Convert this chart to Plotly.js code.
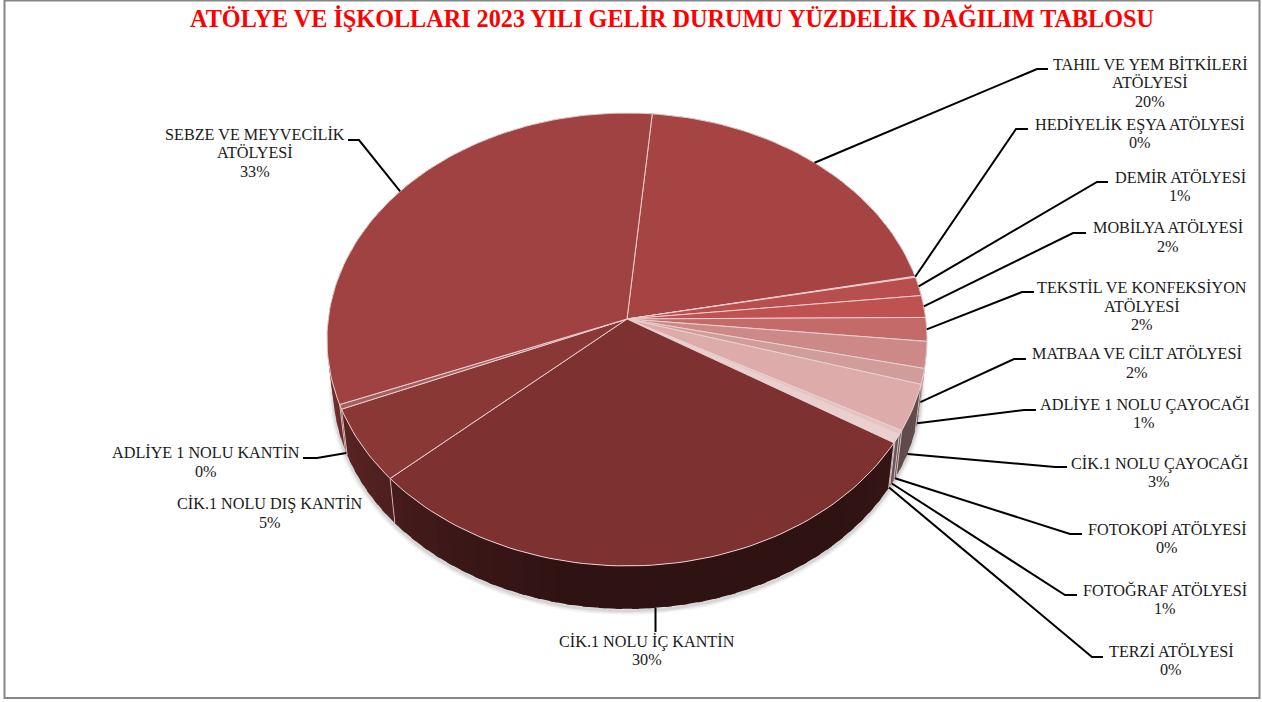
<!DOCTYPE html>
<html><head><meta charset="utf-8">
<script src="https://cdn.plot.ly/plotly-3.0.1.min.js"></script>
<style>html,body{margin:0;padding:0;background:#fff}#c{width:1262px;height:702px}</style>
</head><body><div id="c"></div>
<script>
// ---- data ----
const categories = ["TAHIL VE YEM BİTKİLERİ<br>ATÖLYESİ","HEDİYELİK EŞYA ATÖLYESİ","DEMİR ATÖLYESİ","MOBİLYA ATÖLYESİ","TEKSTİL VE KONFEKSİYON<br>ATÖLYESİ","MATBAA VE CİLT ATÖLYESİ","ADLİYE 1 NOLU ÇAYOCAĞI","CİK.1 NOLU ÇAYOCAĞI","FOTOKOPİ ATÖLYESİ","FOTOĞRAF ATÖLYESİ","TERZİ ATÖLYESİ","CİK.1 NOLU İÇ KANTİN","CİK.1 NOLU DIŞ KANTİN","ADLİYE 1 NOLU KANTİN","SEBZE VE MEYVECİLİK<br>ATÖLYESİ"];
const values = [20.44,0.08,1.35,1.57,1.69,1.89,1.11,3.31,0.3,0.5,0.12,29.6,5.3,0.33,32.5];
const chartTitle = "ATÖLYE VE İŞKOLLARI 2023 YILI GELİR DURUMU YÜZDELİK DAĞILIM TABLOSU";

// ---- styles ----
const topColors = ["#A54443","#B04A49","#B84E4D","#BF5150","#C46A69","#CD8987","#D19D9B","#DDABAA","#E6C3C2","#EBCFCE","#EFDADA","#7E3131","#8A3836","#A5605E","#9F4241"];
const edge = "#E8CFCF";
// ---- geometry of the tilted disc ----
const startAngle = 5.29, apexX = 627, apexY = 319, tiltK = 0.0905, scaleA = 298.8, scaleB = 224.6;
const wallShrink = 0.98, frontRimY = 566, frontBaseY = 609;
// ---- label layout: [centre x, centre y] ----
const labelPos = [[1150,83],[1139.5,134],[1180,187],[1168,237.5],[1142,306.5],[1137,363.5],[1144,414],[1159,472.5],[1167,539],[1165,600],[1171,661],[647,651],[270,513.5],[206,462.5],[255,153]];
const labelLineStep = 18.5;
// leader: label-side points, and whether it lands on the top rim or wall foot
const leaderOuter = [[1048,69],[1028,129],[1108,182],[1086,233],[1034,292],[1026,359],[1036,410],[1067,467],[1082,534],[1077,595],[1103,657],[655.5,632],null,[303,458],[348,140]];
const leaderElbow = [[1037,69],[1016,129],[1097,182],[1073,233],[1022,292],[1014,359],[1024,410],[1055,467],[1070,534],[1065,595],[1092,657],[655.5,632],null,[317,458],[359,140]];
const leaderOnWall = [0,0,0,0,0,1,1,1,1,1,1,1,0,1,0];

const rad = d => d * Math.PI / 180;
function rim(a){const s=Math.sin(rad(a)),c=Math.cos(rad(a)),w=1+tiltK*c;return [apexX+scaleA*s/w, apexY-scaleB*c/w];}
function foot(p){return [apexX+wallShrink*(p[0]-apexX), frontBaseY+wallShrink*(p[1]-frontRimY)];}
function hexRgb(h){return [1,3,5].map(i=>parseInt(h.substr(i,2),16));}
function wallFactor(a){const n=((a%360)+360)%360;
  if(n<115) return 0.44; if(n<190) return 0.44-0.07*Math.min(1,(n-115)/25);
  if(n<250) return 0.37+0.29*(n-190)/60; return 0.68;}
function shade(hex,f){const c=hexRgb(hex);return `rgb(${c.map(v=>Math.round(v*f)).join(",")})`;}

const total = values.reduce((a,b)=>a+b,0);
let acc = startAngle;
const spans = values.map(v=>{const s=acc;acc+=v/total*360;return [s,acc];});
const traces = [];
const poly=(pts,fill,line,w)=>traces.push({type:"scatter",mode:"lines",x:pts.map(p=>p[0]),y:pts.map(p=>p[1]),fill:"toself",fillcolor:fill,line:{color:line,width:w},hoverinfo:"skip",showlegend:false});
const path=(pts,col,w)=>traces.push({type:"scatter",mode:"lines",x:pts.map(p=>p[0]),y:pts.map(p=>p[1]),line:{color:col,width:w},hoverinfo:"skip",showlegend:false});

// soft shadow below the wall
const ring=[];for(let a=60;a<=300;a+=3){const f=foot(rim(a));ring.push([f[0],f[1]+2]);}
[[9,0.035],[6,0.05],[3,0.08]].forEach(([w,o])=>path(ring,`rgba(0,0,0,${o})`,w));

// walls: each band overlaps the next so that no seams show
spans.forEach(([s,e],i)=>{
  const n=Math.max(1,Math.ceil((e-s)/3)),step=(e-s)/n;
  for(let k=0;k<n;k++){
    const a=s+k*step,b=a+step,m=(a+b)/2,over=k<n-1?Math.min(step*0.5,1.2):0;
    const top=[rim(a),rim(m),rim(b+over)];
    const pts=top.concat(top.slice().reverse().map(foot));
    pts.push(pts[0]);
    poly(pts,shade(topColors[i],wallFactor(m)),"rgba(0,0,0,0)",0);
  }
});
// wall seams between slices
spans.forEach(([s,e])=>{const p=rim(s);if(Math.cos(rad(s))<0.2) path([p,foot(p)],"rgba(232,207,207,0.75)",1);});

// top faces
spans.forEach(([s,e],i)=>{
  const pts=[[apexX,apexY]];
  const n=Math.max(2,Math.ceil((e-s)/1.5));
  for(let k=0;k<=n;k++) pts.push(rim(s+(e-s)*k/n));
  pts.push([apexX,apexY]);
  poly(pts,topColors[i],edge,1);
});

// leader lines
spans.forEach(([s,e],i)=>{
  if(!leaderOuter[i]) return;
  const r=rim((s+e)/2),end=leaderOnWall[i]?foot(r):r;
  path([leaderOuter[i],leaderElbow[i],end],"#000",2);
});

// labels: one annotation per line so that the line spacing can match
const annotations=[];
categories.forEach((c,i)=>{
  const lines=c.split("<br>").concat(Math.round(values[i])+"%");
  lines.forEach((t,k)=>annotations.push({x:labelPos[i][0],y:labelPos[i][1]+(k-(lines.length-1)/2)*labelLineStep,xref:"x",yref:"y",text:t,showarrow:false,align:"center",xanchor:"center",yanchor:"middle",font:{family:"Liberation Serif, Times New Roman, serif",size:16.2,color:"#1a1a1a"}}));
});

const layout={width:1262,height:702,margin:{l:0,r:0,t:0,b:0},paper_bgcolor:"#fff",plot_bgcolor:"#fff",showlegend:false,
  title:{text:chartTitle,x:0.5325,xanchor:"center",y:0.9743,yanchor:"middle",font:{family:"Liberation Serif, Times New Roman, serif",size:24.2,color:"#FF0000",weight:700}},
  xaxis:{range:[0,1262],visible:false,fixedrange:true},
  yaxis:{range:[702,0],visible:false,fixedrange:true},
  shapes:[{type:"rect",xref:"x",yref:"y",x0:4.5,y0:0.5,x1:1259.5,y1:698,line:{color:"#868686",width:2},layer:"above"}],
  annotations};
Plotly.newPlot("c",traces,layout,{displayModeBar:false,staticPlot:true});
</script></body></html>
